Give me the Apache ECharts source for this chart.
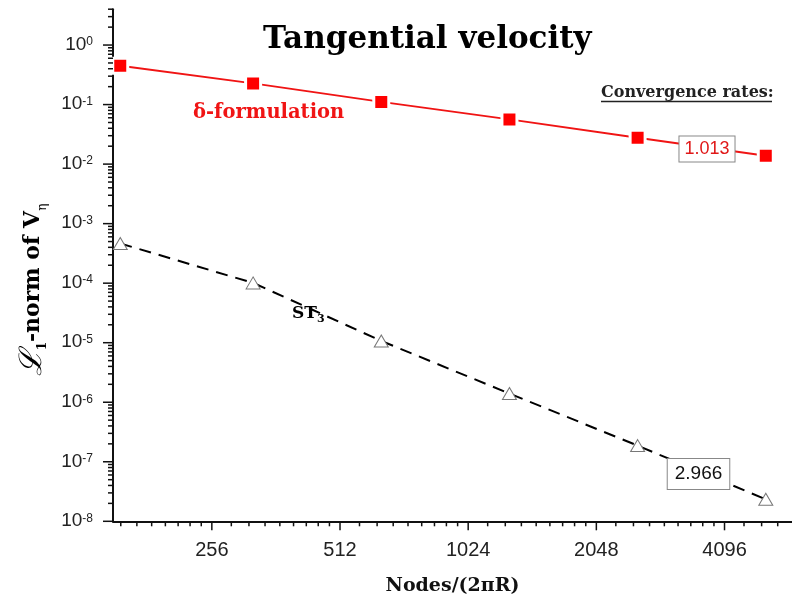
<!DOCTYPE html>
<html>
<head>
<meta charset="utf-8">
<script src="https://cdn.jsdelivr.net/npm/echarts@6/dist/echarts.min.js"></script>
<style>
  html, body { margin: 0; padding: 0; background: #fff; }
  #chart { width: 792px; height: 599px; }
</style>
</head>
<body>
<div id="chart"></div>
<script>
// Grid resolution (nodes per 2πR) and L1 error norms of the tangential velocity
const nodes = [156, 320, 640, 1280, 2560, 5120];
const deltaErr = [0.449, 0.227, 0.111, 0.0564, 0.0277, 0.0138];
const st3Err = [4.65e-4, 1.01e-4, 1.07e-5, 1.40e-6, 1.87e-7, 2.34e-8];
// Observed convergence rates of the two schemes
const rates = ['1.013', '2.966'];
// Axis ranges
const xRange = [150, 5900];
const yRange = [1e-8, 4];

const SERIF = '"DejaVu Serif", serif';
const SANS = '"Liberation Sans", Arial, sans-serif';

// Minor tick positions: x uses ninths of each octave, y uses 2..9 of each decade
const xMinor = [];
for (let p = 7; p <= 12; p++) {
  const base = Math.pow(2, p);
  for (let k = 1; k <= 8; k++) {
    const v = base * (1 + k / 9);
    if (v > xRange[0] && v < xRange[1]) xMinor.push([v, yRange[0], 5]);
  }
}
const xMajor = [];
for (let p = 8; p <= 12; p++) xMajor.push([Math.pow(2, p), yRange[0], 9]);

const yMinor = [];
for (let e = -8; e <= 0; e++) {
  for (let k = 2; k <= 9; k++) {
    const v = k * Math.pow(10, e);
    if (v <= yRange[1]) yMinor.push([xRange[0], v, 5]);
  }
}
const yMajor = [];
for (let e = -8; e <= 0; e++) yMajor.push([xRange[0], Math.pow(10, e), 10]);

function tickSeries(data, vertical) {
  return {
    type: 'custom',
    silent: true,
    clip: false,
    z: 6,
    data: data,
    renderItem: function (params, api) {
      const p = api.coord([api.value(0), api.value(1)]);
      const len = api.value(2);
      const shape = vertical
        ? { x1: p[0], y1: p[1], x2: p[0], y2: p[1] + len }
        : { x1: p[0] - len, y1: p[1], x2: p[0], y2: p[1] };
      return { type: 'line', shape: shape, style: { stroke: '#111', lineWidth: 1.5 } };
    }
  };
}

function isPow(v, base) {
  const e = Math.log(v) / Math.log(base);
  return Math.abs(e - Math.round(e)) < 1e-6;
}

const chart = echarts.init(document.getElementById('chart'), null, { renderer: 'canvas' });

chart.setOption({
  animation: false,
  backgroundColor: '#fff',
  title: {
    text: 'Tangential velocity',
    left: 263,
    top: 24,
    padding: 0,
    textStyle: { fontFamily: SERIF, fontWeight: 'bold', fontSize: 31, color: '#000' }
  },
  grid: { left: 113, right: 0, top: 9.2, bottom: 77.7, outerBoundsMode: 'none' },
  xAxis: {
    type: 'log',
    logBase: 2,
    min: xRange[0],
    max: xRange[1],
    splitNumber: 5,
    name: 'Nodes/(2πR)',
    nameLocation: 'middle',
    nameGap: 55,
    nameTextStyle: { fontFamily: SERIF, fontWeight: 'bold', fontSize: 19, color: '#111' },
    axisLine: { lineStyle: { color: '#111', width: 2 } },
    axisTick: { show: false },
    splitLine: { show: false },
    axisLabel: {
      margin: 19,
      color: '#222',
      fontFamily: SANS,
      fontSize: 20,
      formatter: function (v) { return isPow(v, 2) ? String(Math.round(v)) : ''; }
    }
  },
  yAxis: {
    type: 'log',
    logBase: 10,
    min: yRange[0],
    max: yRange[1],
    interval: 1,
    axisLine: { lineStyle: { color: '#111', width: 2 } },
    axisTick: { show: false },
    splitLine: { show: false },
    axisLabel: {
      margin: 20,
      formatter: function (v) {
        if (!isPow(v, 10)) return '';
        return '{b|10}{s|' + Math.round(Math.log10(v)) + '}';
      },
      rich: {
        b: { fontFamily: SANS, fontSize: 19, color: '#222', lineHeight: 18, verticalAlign: 'bottom' },
        s: { fontFamily: SANS, fontSize: 12, color: '#222', lineHeight: 12, verticalAlign: 'top' }
      }
    }
  },
  series: [
    {
      name: 'δ-formulation',
      type: 'line',
      data: nodes.map((n, i) => [n, deltaErr[i]]),
      symbol: 'rect',
      symbolSize: 15,
      lineStyle: { color: '#f01414', width: 2 },
      itemStyle: { color: '#ff0000', borderColor: '#fff', borderWidth: 3 },
      z: 3
    },
    {
      name: 'ST3',
      type: 'line',
      data: nodes.map((n, i) => [n, st3Err[i]]),
      symbol: 'triangle',
      symbolSize: [14, 12],
      lineStyle: { color: '#000', width: 2, type: [12, 8] },
      itemStyle: { color: '#fff', borderColor: '#777', borderWidth: 1 },
      z: 3
    },
    tickSeries(xMajor, true),
    tickSeries(xMinor, true),
    tickSeries(yMajor, false),
    tickSeries(yMinor, false)
  ],
  graphic: [
    {
      type: 'text', x: 193, y: 113, z: 10,
      style: { text: 'δ-formulation', fill: '#f01414', font: 'bold 19.5px ' + SERIF, verticalAlign: 'middle' }
    },
    {
      type: 'text', x: 601, y: 93, z: 10,
      style: { text: 'Convergence rates:', fill: '#222', font: 'bold 16px ' + SERIF, verticalAlign: 'middle' }
    },
    {
      type: 'line', z: 10,
      shape: { x1: 601, y1: 101.5, x2: 772, y2: 101.5 },
      style: { stroke: '#222', lineWidth: 1.5 }
    },
    {
      type: 'text', x: 707, y: 149, z: 10,
      style: {
        text: rates[0], fill: '#e01818', font: '18px ' + SANS,
        align: 'center', verticalAlign: 'middle',
        backgroundColor: '#fff', borderColor: '#888', borderWidth: 1, padding: [4, 5, 3, 5]
      }
    },
    {
      type: 'text', x: 698.5, y: 474, z: 10,
      style: {
        text: rates[1], fill: '#111', font: '19px ' + SANS,
        align: 'center', verticalAlign: 'middle',
        backgroundColor: '#fff', borderColor: '#888', borderWidth: 1, padding: [6, 7, 5, 7]
      }
    },
    {
      type: 'text', x: 292, y: 314, z: 10,
      style: {
        text: '{a|ST}{b|3}', verticalAlign: 'middle',
        rich: {
          a: { fontFamily: SERIF, fontWeight: 'bold', fontSize: 17, color: '#111', lineHeight: 22 },
          b: { fontFamily: SERIF, fontWeight: 'bold', fontSize: 11, color: '#111', lineHeight: 10, verticalAlign: 'bottom' }
        }
      }
    },
    {
      type: 'text', x: 33, y: 290, rotation: Math.PI / 2, z: 10,
      style: {
        text: '{L|ℒ}{s|1}{t|-norm of V}{e|η}', align: 'center', verticalAlign: 'middle',
        rich: {
          L: { fontFamily: SERIF, fontStyle: 'italic', fontSize: 31, color: '#111', lineHeight: 32 },
          s: { fontFamily: SERIF, fontWeight: 'bold', fontSize: 12, color: '#111', lineHeight: 12, verticalAlign: 'bottom' },
          t: { fontFamily: SERIF, fontWeight: 'bold', fontSize: 22, color: '#111', lineHeight: 26 },
          e: { fontFamily: SERIF, fontSize: 12, color: '#111', lineHeight: 12, verticalAlign: 'bottom' }
        }
      }
    }
  ]
});
</script>
</body>
</html>
